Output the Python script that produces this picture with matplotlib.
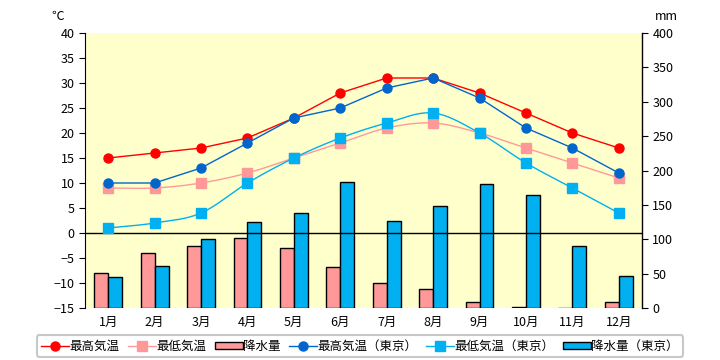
import numpy as np
import matplotlib
matplotlib.use("Agg")
import matplotlib.pyplot as plt
from matplotlib.patches import Patch
from matplotlib.lines import Line2D

plt.rcParams['font.family'] = ['Noto Sans CJK JP', 'DejaVu Sans']

# データ
months = ['1月', '2月', '3月', '4月', '5月', '6月', '7月', '8月', '9月', '10月', '11月', '12月']
max_temp = [15, 16, 17, 19, 23, 28, 31, 31, 28, 24, 20, 17]
min_temp = [9, 9, 10, 12, 15, 18, 21, 22, 20, 17, 14, 11]
rain = [51, 80, 90, 102, 87, 60, 36, 28, 9, 2, 0, 9]
max_tokyo = [10, 10, 13, 18, 23, 25, 29, 31, 27, 21, 17, 12]
min_tokyo = [1, 2, 4, 10, 15, 19, 22, 24, 20, 14, 9, 4]
rain_tokyo = [45, 61, 100, 125, 138, 184, 126, 148, 180, 164, 90, 46]

C_RED = '#FF0000'
C_PINK = '#FF9999'
C_BLUE = '#0066CC'
C_CYAN = '#00B0F0'


# Excel風の平滑線 (Catmull-Rom)
def smooth(x, y, n=20):
    x = np.asarray(x, float)
    y = np.asarray(y, float)
    px = np.concatenate([[2 * x[0] - x[1]], x, [2 * x[-1] - x[-2]]])
    py = np.concatenate([[2 * y[0] - y[1]], y, [2 * y[-1] - y[-2]]])
    xs, ys = [], []
    t = np.linspace(0, 1, n, endpoint=False)
    for i in range(1, len(px) - 2):
        for p, out in ((px, xs), (py, ys)):
            p0, p1, p2, p3 = p[i - 1], p[i], p[i + 1], p[i + 2]
            out.extend(0.5 * ((2 * p1) + (-p0 + p2) * t
                              + (2 * p0 - 5 * p1 + 4 * p2 - p3) * t ** 2
                              + (-p0 + 3 * p1 - 3 * p2 + p3) * t ** 3))
    xs.append(x[-1])
    ys.append(y[-1])
    return np.array(xs), np.array(ys)


fig = plt.figure(figsize=(7.2, 3.6), dpi=100)
ax = fig.add_axes([85 / 720, 52 / 360, 557 / 720, 275 / 360])
ax2 = ax.twinx()

x = np.arange(len(months))
w = 0.3

# 降水量（右軸）
ax2.bar(x - w / 2, rain, width=w, color=C_PINK, edgecolor='black', linewidth=1)
ax2.bar(x + w / 2, rain_tokyo, width=w, color=C_CYAN, edgecolor='black', linewidth=1)
ax2.set_ylim(0, 400)
ax2.set_yticks(range(0, 401, 50))

# 気温（左軸）を前面に
ax.set_zorder(ax2.get_zorder() + 1)
ax.patch.set_visible(False)
ax2.patch.set_visible(True)
ax2.patch.set_facecolor('#FFFFCC')

ax.axhline(0, color='black', linewidth=1)

ax.plot(x, max_temp, color=C_RED, linewidth=1, marker='o', markersize=6.5)
sx, sy = smooth(x, min_temp)
ax.plot(sx, sy, color=C_PINK, linewidth=1)
ax.plot(x, min_temp, color=C_PINK, linestyle='none', marker='s', markersize=6.5)
ax.plot(x, max_tokyo, color=C_BLUE, linewidth=1, marker='o', markersize=6.5)
sx, sy = smooth(x, min_tokyo)
ax.plot(sx, sy, color=C_CYAN, linewidth=1)
ax.plot(x, min_tokyo, color=C_CYAN, linestyle='none', marker='s', markersize=6.5)

ax.set_ylim(-15, 40)
ax.set_yticks(range(-15, 41, 5))
ax.set_xlim(-0.5, len(months) - 0.5)
ax.set_xticks(x)
ax.set_xticklabels(months)

for a in (ax, ax2):
    for s in ('top', 'bottom'):
        a.spines[s].set_visible(False)
    a.spines['left'].set_visible(a is ax)
    a.spines['right'].set_visible(a is ax2)
    a.tick_params(labelsize=9, colors='black')
ax.tick_params(axis='x', length=0, pad=6)
ax.tick_params(axis='y', length=4)
ax2.tick_params(axis='y', length=4)
ax2.spines['right'].set_linewidth(1)

fig.text(58 / 720, 1 - 16 / 360, '℃', fontsize=9, ha='center', va='center')
fig.text(666 / 720, 1 - 16 / 360, 'mm', fontsize=9, ha='center', va='center')

handles = [
    Line2D([], [], color=C_RED, marker='o', markersize=6.5, linewidth=1),
    Line2D([], [], color=C_PINK, marker='s', markersize=6.5, linewidth=1),
    Patch(facecolor=C_PINK, edgecolor='black'),
    Line2D([], [], color=C_BLUE, marker='o', markersize=6.5, linewidth=1),
    Line2D([], [], color=C_CYAN, marker='s', markersize=6.5, linewidth=1),
    Patch(facecolor=C_CYAN, edgecolor='black'),
]
labels = ['最高気温', '最低気温', '降水量', '最高気温（東京）', '最低気温（東京）', '降水量（東京）']
leg = fig.legend(handles, labels, loc='center', bbox_to_anchor=(0.5, 1 - 346 / 360),
                 ncol=6, fontsize=9, frameon=True, fancybox=True, edgecolor='#BBBBBB',
                 handlelength=2.2, handletextpad=0.05, columnspacing=0.7,
                 borderpad=0.35, handleheight=0.5)
leg.get_frame().set_linewidth(1.5)

fig.savefig('out.png', dpi=100, facecolor='white')
